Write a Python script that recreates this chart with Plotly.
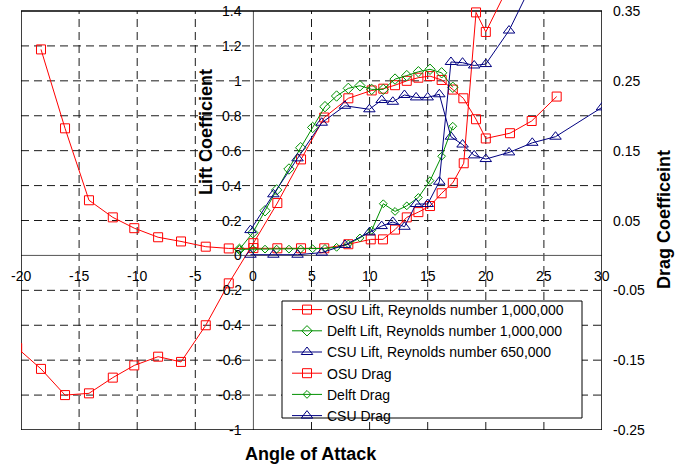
import plotly.graph_objects as go

# ---------------- data ----------------
osu_lift_x = [-20.33, -18.28, -16.21, -14.15, -12.1, -10.25, -8.2, -6.23, -4.1, -2.12, 0.0,
              2.06, 4.1, 6.1, 8.17, 10.18, 11.18, 12.19, 13.2, 14.2, 15.2, 16.2, 17.16,
              18.07, 19.16, 20.0, 22.08, 23.95, 26.1]
osu_lift_y = [-0.53, -0.65, -0.80, -0.79, -0.70, -0.63, -0.58, -0.61, -0.40, -0.16, 0.07,
              0.30, 0.55, 0.79, 0.90, 0.945, 0.955, 0.975, 1.0, 1.018, 1.027, 1.005, 0.95,
              0.90, 0.78, 0.67, 0.70, 0.77, 0.91]

delft_x = [-1.2, -0.05, 1.0, 2.0, 3.06, 4.07, 5.1, 6.16, 7.16, 8.17, 9.17, 10.18, 11.18,
           12.19, 13.2, 14.2, 15.2, 16.2, 17.16]
delft_lift_y = [0.035, 0.13, 0.256, 0.375, 0.495, 0.617, 0.733, 0.852, 0.913, 0.957, 0.972,
                0.951, 0.951, 1.01, 1.03, 1.052, 1.066, 1.046, 0.963]

csu_lift_x = [-0.25, 1.72, 3.8, 5.88, 7.88, 9.98, 11.04, 12.0, 13.0, 14.0, 15.0, 16.0, 17.0,
              18.0, 19.0, 20.0, 22.0, 24.0, 26.0, 30.0]
csu_lift_y = [0.145, 0.35, 0.556, 0.76, 0.857, 0.837, 0.89, 0.88, 0.919, 0.905, 0.905, 0.923,
              0.68, 0.635, 0.573, 0.552, 0.59, 0.645, 0.68, 0.848]

osu_drag_x = [-18.28, -16.21, -14.15, -12.1, -10.25, -8.2, -6.23, -4.1, -2.12, 0.0, 2.06, 4.1,
              6.1, 8.17, 10.1, 11.15, 12.19, 13.2, 14.2, 15.2, 16.2, 17.16, 18.1, 19.16, 20.0, 22.08]
osu_drag_y = [0.295, 0.182, 0.079, 0.0545, 0.039, 0.026, 0.020, 0.0125, 0.010, 0.0105, 0.0102,
              0.0102, 0.0102, 0.016, 0.023, 0.023, 0.037, 0.0545, 0.062, 0.0707, 0.089, 0.104,
              0.132, 0.348, 0.32, 0.39]

delft_drag_y = [0.0087, 0.009, 0.009, 0.009, 0.009, 0.0092, 0.0095, 0.010, 0.0116, 0.0163,
                0.025, 0.036, 0.074, 0.063, 0.071, 0.083, 0.107, 0.142, 0.185]

csu_drag_x = [-0.25, 1.72, 3.8, 5.88, 7.88, 9.98, 11.04, 12.0, 13.0, 14.0, 15.0, 16.0, 17.0,
              18.0, 19.0, 20.0, 22.0, 24.0]
csu_drag_y = [0.001, 0.001, 0.001, 0.004, 0.015, 0.033, 0.042, 0.048, 0.041, 0.0736, 0.0736,
              0.1055, 0.277, 0.276, 0.272, 0.274, 0.322, 0.39]

x_ticks = [-20, -15, -10, -5, 0, 5, 10, 15, 20, 25, 30]
x_tick_text = ["-20", "-15", "-10", "-5", "0", "5", "10", "15", "20", "25", "30"]
lift_ticks = [-1, -0.8, -0.6, -0.4, -0.2, 0, 0.2, 0.4, 0.6, 0.8, 1, 1.2, 1.4]
lift_tick_text = ["-1", "-0.8", "-0.6", "-0.4", "-0.2", "0", "0.2", "0.4", "0.6", "0.8", "1", "1.2", "1.4"]
drag_ticks = [-0.25, -0.15, -0.05, 0.05, 0.15, 0.25, 0.35]
drag_tick_text = ["-0.25", "-0.15", "-0.05", "0.05", "0.15", "0.25", "0.35"]

# ---------------- styling ----------------
RED = "#FF0000"
GREEN = "#009000"
BLUE = "#000080"
FONT = "Arial, Liberation Sans, sans-serif"

W, H = 684, 466
L, R, T, B = 21, 82, 0, 36
frame_top_px = 11
plot_h = H - T - B
XMIN, XMAX = -20, 30
YMIN, YMAX = -1.0, 1.4
Y2MIN, Y2MAX = -0.25, 0.35
ppu = (plot_h - frame_top_px) / (YMAX - YMIN)
y_top = YMAX + frame_top_px / ppu
y2_top = Y2MAX + frame_top_px / (ppu * (YMAX - YMIN) / (Y2MAX - Y2MIN))

fig = go.Figure()

def add(name, x, y, color, symbol, size, axis):
    fig.add_trace(go.Scatter(
        x=x, y=y, name=name, mode="lines+markers", yaxis=axis,
        line=dict(color=color, width=1),
        marker=dict(symbol=symbol, size=size, color=color, line=dict(color=color, width=1)),
    ))

add("OSU Lift, Reynolds number 1,000,000", osu_lift_x, osu_lift_y, RED, "square-open", 9, "y")
add("Delft Lift, Reynolds number 1,000,000", delft_x, delft_lift_y, GREEN, "diamond-open", 8, "y")
add("CSU Lift, Reynolds number 650,000", csu_lift_x, csu_lift_y, BLUE, "triangle-up-open", 10, "y")
add("OSU Drag", osu_drag_x, osu_drag_y, RED, "square-open", 9, "y2")
add("Delft Drag", delft_x, delft_drag_y, GREEN, "diamond-open", 6, "y2")
add("CSU Drag", csu_drag_x, csu_drag_y, BLUE, "triangle-up-open", 10, "y2")

pw = W - L - R
def px(xpix):
    return (xpix - L) / pw
def py(ypix):
    return (H - B - ypix) / plot_h

shapes = []
grid_dash = "8px,5px"
for xv in x_ticks:
    if xv in (XMIN, XMAX, 0):
        continue
    shapes.append(dict(type="line", xref="x", yref="y", x0=xv, x1=xv, y0=YMIN, y1=YMAX,
                       line=dict(color="#1a1a1a", width=1, dash=grid_dash), layer="below"))
for yv in lift_ticks:
    if yv in (YMIN, YMAX, 0):
        continue
    shapes.append(dict(type="line", xref="x", yref="y", x0=XMIN, x1=XMAX, y0=yv, y1=yv,
                       line=dict(color="#1a1a1a", width=1, dash=grid_dash), layer="below"))
# zero axes
shapes.append(dict(type="line", xref="x", yref="y", x0=0, x1=0, y0=YMIN, y1=YMAX,
                   line=dict(color="#555555", width=1), layer="below"))
shapes.append(dict(type="line", xref="x", yref="y", x0=XMIN, x1=XMAX, y0=0, y1=0,
                   line=dict(color="#555555", width=1), layer="below"))
# frame
shapes.append(dict(type="rect", xref="x", yref="y", x0=XMIN, x1=XMAX, y0=YMIN, y1=YMAX,
                   line=dict(color="black", width=1.5), layer="below"))
# legend box
shapes.append(dict(type="rect", xref="paper", yref="paper", x0=px(282), x1=px(582),
                   y0=py(418), y1=py(301), fillcolor="white",
                   line=dict(color="black", width=1), layer="above"))

ann = []
tf = dict(family=FONT, size=14, color="black")
for xv, t in zip(x_ticks, x_tick_text):
    ann.append(dict(x=xv, y=0, xref="x", yref="y", text=t, showarrow=False, font=tf,
                    xanchor="center", yanchor="middle", yshift=-21))
for yv, t in zip(lift_ticks, lift_tick_text):
    ann.append(dict(x=0, y=yv, xref="x", yref="y", text=t, showarrow=False, font=tf,
                    xanchor="right", yanchor="middle", xshift=-9))
for yv, t in zip(drag_ticks, drag_tick_text):
    ann.append(dict(x=XMAX, y=yv, xref="x", yref="y2", text=t, showarrow=False, font=tf,
                    xanchor="left", yanchor="middle", xshift=9))

title_font = dict(family=FONT, size=18, color="black")
ann.append(dict(x=px(206), y=py(132), xref="paper", yref="paper", text="<b>Lift Coefficient</b>",
                textangle=-90, showarrow=False, font=title_font, xanchor="center", yanchor="middle"))
ann.append(dict(x=px(664), y=py(220), xref="paper", yref="paper", text="<b>Drag Coefficeint</b>",
                textangle=-90, showarrow=False, font=title_font, xanchor="center", yanchor="middle"))
ann.append(dict(x=px(311), y=py(454), xref="paper", yref="paper", text="<b>Angle of Attack</b>",
                showarrow=False, font=title_font, xanchor="center", yanchor="middle"))

hidden = dict(showgrid=False, zeroline=False, showticklabels=False, showline=False, ticks="")
fig.update_layout(
    width=W, height=H,
    margin=dict(l=L, r=R, t=T, b=B, pad=0),
    paper_bgcolor="white", plot_bgcolor="white",
    xaxis=dict(range=[XMIN, XMAX], **hidden),
    yaxis=dict(range=[YMIN, y_top], **hidden),
    yaxis2=dict(range=[Y2MIN, y2_top], overlaying="y", side="right", **hidden),
    shapes=shapes, annotations=ann,
    showlegend=True,
    legend=dict(x=px(287), y=py(294), xanchor="left", yanchor="top",
                bgcolor="rgba(0,0,0,0)", borderwidth=0,
                font=dict(family=FONT, size=14, color="black"),
                tracegroupgap=0, itemwidth=30),
    font=dict(family=FONT),
)

fig.write_html("out.html")
